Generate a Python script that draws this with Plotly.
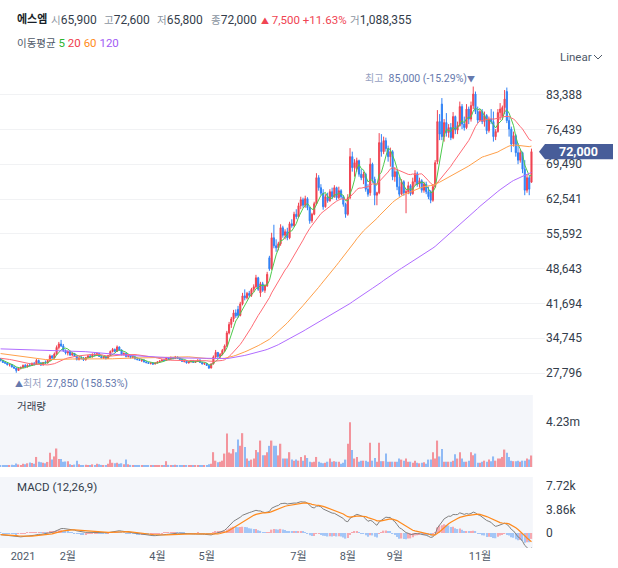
import numpy as np
import pandas as pd
import plotly.graph_objects as go

# ---------------- data ----------------
# trading-day index: 0 = 2021-01-04 ; visible candles run from idx -10 (2020-12-16) to 227 (2021-12-02)
FIRST_IDX = -10

# closes before the visible window (idx -130 .. -11), used only for the moving averages / MACD
prior_close = [
    31000, 31200, 30800, 31100, 31500, 31300, 31000, 30700, 30900, 31200,
    31600, 31800, 31500, 31300, 31700, 32000, 31800, 31400, 31600, 31900,
    32200, 31800, 31500, 31300, 31600, 31900, 32100, 31700, 31500, 31800,
    32500, 33200, 33800, 34300, 34000, 34600, 35200, 35800, 35500, 36100,
    36600, 37000, 36500, 36800, 37400, 37800, 37200, 36700, 36900, 36400,
    36000, 35600, 35900, 35300, 34900, 35200, 34700, 34400, 34800, 34300,
    34000, 33600, 33900, 33400, 33000, 33300, 32800, 32500, 32900, 33300,
    33700, 34200, 33800, 33200, 32700, 32300, 32600, 32100, 31800, 32200,
    32000, 31700, 31400, 31800, 31500, 31200, 31600, 31300, 31000, 31400,
    31600, 31300, 31000, 31400, 31700, 31200, 30900, 31300, 31500, 31100,
    30800, 30500, 30900, 31200, 30800, 30600, 31000, 31300, 30900, 30700,
    30400, 30800, 31100, 30900, 30600, 30500, 30800, 30600, 30400, 30500,
]

opens = [
    30600, 30300, 29900, 29800, 29400, 29500, 29000, 28800, 28300, 28750,
    28900, 29300, 29000, 29400, 29300, 29700, 29500, 30300, 29800, 29400,
    29900, 29800, 30300, 31200, 30800, 31600, 32900, 33600, 33200, 32300,
    31800, 32100, 31400, 31700, 31100, 30500, 30800, 30700, 30400, 30900,
    31200, 31000, 31500, 31300, 31700, 31100, 30800, 31000, 30700, 31300,
    32100, 32500, 32100, 33000, 32400, 31500, 31700, 31100, 31300, 30900,
    31000, 30600, 30500, 30300, 30400, 30000, 29900, 29700, 29800, 29600,
    29800, 30000, 30200, 30400, 30300, 30800, 30600, 30900, 30700, 31000,
    30800, 30500, 30100, 30200, 29800, 30000, 30300, 29900, 30100, 30400,
    29900, 29600, 29700, 29300, 28800, 29600, 31000, 31900, 31100, 31500,
    32300, 33200, 35800, 37500, 38600, 39800, 40500, 39300, 41600, 43200,
    42800, 43700, 43300, 44500, 45000, 46800, 43800, 45600, 44300, 45200,
    50800, 48600, 54800, 53200, 52800, 53600, 56800, 55300, 56000, 54800,
    57600, 57200, 59500, 59000, 61200, 62400, 61300, 62600, 60800, 58200,
    59500, 61600, 66800, 64800, 63700, 61000, 63000, 62200, 64000, 63000,
    64800, 62800, 64200, 63000, 61500, 59500, 62800, 71000, 68800, 68500,
    70200, 67500, 66800, 67500, 64500, 63800, 69500, 66500, 63300, 63800,
    73800, 72000, 74200, 72600, 71000, 72000, 67000, 68000, 65000, 63500,
    66000, 63800, 64000, 65200, 63600, 66000, 67600, 65500, 66200, 64300,
    65500, 64000, 64000, 62300, 65000, 70000, 78000, 81500, 75000, 77800,
    75800, 76800, 74800, 79000, 76300, 77200, 81000, 77500, 76800, 80500,
    78500, 81200, 83500, 80000, 78300, 80000, 78000, 79200, 76200, 78500,
    78000, 75000, 76000, 79800, 79000, 80800, 84000, 78200, 76500, 73500,
    75200, 71800, 70300, 71800, 68500, 64300, 66800, 65900,
]

highs = [
    30800, 30450, 30200, 29900, 29700, 29550, 29200, 28900, 28900, 29100,
    29500, 29600, 29500, 29800, 29900, 30000, 30600, 30500, 30000, 30000,
    30300, 30500, 31500, 31400, 31900, 33300, 34000, 34400, 33600, 32500,
    32300, 32200, 31900, 31800, 31300, 31000, 31200, 31000, 31000, 31400,
    31600, 31700, 31800, 31900, 31800, 31300, 31200, 31100, 31400, 32300,
    32800, 32700, 33300, 33100, 32500, 31900, 31800, 31500, 31400, 31200,
    31100, 30800, 30700, 30600, 30500, 30200, 30000, 29900, 29900, 29900,
    30100, 30300, 30500, 30700, 31000, 30900, 31100, 31000, 31200, 31100,
    30900, 30600, 30300, 30300, 30100, 30400, 30400, 30200, 30500, 30500,
    30000, 29900, 29800, 29400, 29800, 31300, 32400, 32000, 31800, 32600,
    33500, 36200, 38000, 39000, 40400, 40500, 41200, 42000, 43800, 44500,
    44000, 44200, 44800, 45500, 47400, 47000, 46000, 46000, 45500, 48000,
    51200, 55800, 57400, 54500, 54000, 57500, 57200, 56500, 56800, 58000,
    58500, 60000, 60500, 61800, 63000, 62800, 63200, 62900, 61000, 59800,
    62000, 67700, 67300, 65500, 64500, 63500, 63800, 64500, 64800, 65300,
    65000, 65000, 64500, 63300, 61800, 63500, 72700, 72000, 70500, 70800,
    70400, 68500, 68000, 67800, 65500, 70700, 69800, 67000, 64000, 75700,
    75500, 75000, 74800, 73200, 72800, 72300, 68900, 68500, 67000, 66500,
    66300, 64500, 66000, 65500, 66800, 68300, 68000, 66800, 66500, 66000,
    66000, 65000, 64300, 65500, 70300, 80300, 79500, 82700, 78500, 79700,
    77500, 77700, 79900, 79200, 78000, 82000, 81500, 79000, 81500, 81000,
    82000, 85000, 84000, 81000, 80500, 80500, 80000, 79500, 79000, 80500,
    80000, 76500, 80500, 81700, 81200, 84300, 84800, 79000, 77000, 76000,
    75500, 73700, 72500, 72000, 70300, 67500, 67200, 72600,
]

lows = [
    30100, 29800, 29600, 29300, 29100, 28900, 28600, 27850, 28200, 28500,
    28700, 28900, 28900, 29100, 29200, 29300, 29400, 29700, 29200, 29300,
    29600, 29700, 30200, 30600, 30700, 31400, 32500, 33000, 32000, 31500,
    31300, 31200, 31200, 31000, 30300, 30300, 30500, 30200, 30300, 30800,
    30900, 30900, 31100, 31200, 31000, 30700, 30600, 30500, 30600, 31200,
    31900, 31900, 32000, 32200, 31300, 31300, 30900, 30900, 30700, 30700,
    30500, 30300, 30200, 30000, 29900, 29700, 29600, 29500, 29400, 29500,
    29700, 29900, 30100, 30200, 30200, 30400, 30500, 30500, 30600, 30600,
    30400, 30000, 29900, 29700, 29700, 29900, 29800, 29800, 30000, 29800,
    29500, 29400, 29200, 28600, 28700, 29500, 30800, 30800, 30700, 31300,
    32000, 33000, 35500, 36800, 38000, 38800, 38800, 39100, 41300, 42300,
    42500, 42900, 43000, 44000, 44800, 44200, 43000, 44000, 43800, 45000,
    48200, 48400, 52700, 52000, 52300, 53200, 54800, 54500, 54300, 54500,
    56800, 57000, 58500, 58800, 60500, 60800, 60800, 60300, 57600, 57800,
    59300, 61300, 64200, 63300, 60400, 60800, 61800, 62000, 62500, 62800,
    62300, 62500, 62600, 61000, 58800, 59200, 62500, 68000, 67000, 68000,
    67000, 66300, 65500, 64000, 63000, 63200, 65800, 61300, 61300, 63500,
    71000, 71500, 72000, 70000, 69000, 66300, 66000, 64300, 63000, 63300,
    63200, 59700, 63500, 63200, 63400, 65200, 65000, 64800, 63800, 63800,
    63500, 62500, 61700, 62000, 64800, 69500, 74300, 74300, 74000, 75000,
    74800, 74300, 74500, 75500, 75500, 77000, 76500, 76200, 76500, 77500,
    78000, 80500, 79500, 77700, 78000, 77500, 77000, 75500, 75800, 77500,
    74000, 74300, 75800, 78300, 78300, 79500, 77700, 75000, 71900, 73000,
    71000, 69500, 69800, 67700, 63300, 63800, 63300, 65800,
]

closes = [
    30300, 29900, 29800, 29450, 29500, 29000, 28800, 28300, 28750, 28900,
    29300, 29000, 29400, 29300, 29700, 29500, 30300, 29800, 29400, 29900,
    29800, 30300, 31200, 30800, 31600, 32900, 33600, 33200, 32300, 31800,
    32100, 31400, 31700, 31100, 30500, 30800, 30700, 30400, 30900, 31200,
    31000, 31500, 31300, 31700, 31100, 30800, 31000, 30700, 31300, 32100,
    32500, 32100, 33000, 32400, 31500, 31700, 31100, 31300, 30900, 31000,
    30600, 30500, 30300, 30400, 30000, 29900, 29700, 29800, 29600, 29800,
    30000, 30200, 30400, 30300, 30800, 30600, 30900, 30700, 31000, 30800,
    30500, 30100, 30200, 29800, 30000, 30300, 29900, 30100, 30400, 29900,
    29600, 29700, 29300, 28800, 29600, 31000, 31900, 31100, 31500, 32300,
    33200, 35800, 37500, 38600, 39800, 39200, 39300, 41600, 43200, 42800,
    43700, 43300, 44500, 45000, 46800, 44500, 45600, 44300, 45200, 47500,
    48600, 54800, 53200, 52800, 53600, 56800, 55300, 56000, 54800, 57600,
    57200, 59500, 59000, 61200, 62400, 61300, 62600, 60800, 58200, 59500,
    61600, 66800, 64800, 63700, 61000, 63000, 62200, 64000, 63000, 64800,
    62800, 64200, 63000, 61500, 59500, 62800, 71000, 68800, 69800, 70200,
    67500, 66800, 67500, 64500, 63500, 69500, 66500, 63300, 63800, 73800,
    72000, 74200, 72600, 71000, 72000, 67000, 68000, 65000, 63500, 66000,
    63800, 64000, 65200, 63600, 66000, 67600, 65500, 66200, 64300, 65500,
    64000, 63000, 62300, 65000, 69800, 78000, 75500, 75000, 77800, 75800,
    76800, 74800, 79000, 76300, 77200, 81000, 77500, 76800, 80500, 78500,
    81200, 83500, 80000, 78300, 80000, 78000, 79200, 76200, 78500, 78000,
    75000, 76000, 79800, 80500, 80800, 82500, 78200, 76500, 73500, 75200,
    71800, 70300, 71800, 68500, 64300, 66800, 64500, 72000,
]

volumes_k = [  # thousands of shares
    180, 200, 170, 190, 150, 210, 180, 320, 240, 200,
    300, 250, 350, 420, 380, 300, 950, 500, 450, 400,
    350, 480, 1340, 700, 1000, 1750, 750, 760, 500, 520,
    550, 250, 200, 230, 600, 250, 200, 180, 220, 200,
    180, 250, 200, 300, 250, 200, 180, 200, 300, 700,
    400, 350, 400, 300, 350, 250, 700, 250, 200, 180,
    200, 150, 170, 150, 160, 140, 150, 130, 140, 120,
    130, 150, 170, 200, 550, 200, 200, 180, 220, 170,
    160, 200, 150, 180, 140, 170, 160, 150, 200, 190,
    170, 150, 180, 250, 300, 1400, 600, 450, 500, 600,
    1270, 3180, 1370, 1270, 1700, 1400, 2600, 2000, 3200, 1900,
    800, 600, 700, 800, 1600, 1400, 2500, 1100, 1100, 1400,
    2000, 2500, 2000, 2000, 1100, 2200, 800, 800, 800, 1400,
    700, 600, 700, 600, 950, 600, 1100, 850, 500, 450,
    500, 950, 500, 400, 350, 400, 500, 800, 500, 550,
    500, 500, 300, 400, 700, 2200, 4230, 1600, 800, 950,
    500, 600, 600, 600, 500, 2300, 600, 850, 500, 2300,
    550, 550, 1270, 500, 500, 500, 500, 500, 800, 700,
    600, 800, 500, 500, 400, 600, 400, 350, 400, 450,
    300, 700, 700, 1400, 800, 2500, 1000, 1700, 500, 500,
    500, 500, 600, 1200, 800, 1400, 800, 500, 500, 600,
    1400, 1100, 1270, 400, 400, 500, 600, 500, 700, 550,
    1000, 600, 800, 800, 950, 1650, 1340, 950, 600, 550,
    550, 600, 500, 600, 600, 800, 700, 1088.355,
]

month_ticks = [0, 20, 60, 82, 123, 145, 166, 204]
month_labels = ["2021", "2월", "4월", "5월", "7월", "8월", "9월", "11월"]
price_ticks = [27796, 34745, 41694, 48643, 55592, 62541, 69490, 76439, 83388]
volume_ticks = [4230000]
volume_labels = ["4.23m"]
macd_ticks = [0, 3860, 7720]
macd_labels = ["0", "3.86k", "7.72k"]
ma_periods = [5, 20, 60, 120]
stock_name = "에스엠"

# ---------------- styling ----------------
UP = "#f04452"
DOWN = "#3182f6"
MA_COLORS = {5: "#4cc94c", 20: "#ff6b75", 60: "#ffa04a", 120: "#b06cff"}
MA_TEXT = {5: "#2db52d", 20: "#f03c4a", 60: "#ff8c1a", 120: "#a25cf5"}
GRAY = "#8b95a1"
DARK = "#333d4b"
TAG = "#475d99"
FONT = "Roboto, 'Noto Sans CJK KR', sans-serif"

W, H = 618, 568
ML, MR, MT, MB = 0, 73, 0, 20
PW, PH = W - ML - MR, H - MT - MB


def px(x):  # pixel -> paper x
    return (x - ML) / PW


def py(y):  # pixel -> paper y
    return (H - MB - y) / PH


# ---------------- derived series ----------------
n = len(closes)
idx = list(range(FIRST_IDX, FIRST_IDX + n))
volumes = [round(v * 1000) for v in volumes_k]
all_close = pd.Series(prior_close + closes,
                      index=list(range(FIRST_IDX - len(prior_close), FIRST_IDX)) + idx, dtype=float)
mas = {p: all_close.rolling(p).mean().loc[idx] for p in ma_periods}
ema12 = all_close.ewm(span=12, adjust=False).mean()
ema26 = all_close.ewm(span=26, adjust=False).mean()
macd_all = ema12 - ema26
signal_all = macd_all.ewm(span=9, adjust=False).mean()
hist_all = macd_all - signal_all
macd = macd_all.loc[idx]
signal = signal_all.loc[idx]
hist = hist_all.loc[idx]
hist_prev = hist_all.shift(1).loc[idx]

vol_colors = ["#f3949c" if c >= o else "#8fbaf5" for o, c in zip(opens, closes)]
hist_colors = ["#f6a9b0" if h >= hp else "#a3c6f7" for h, hp in zip(hist, hist_prev)]

x_left = FIRST_IDX - 0.27
x_right = x_left + PW / 2.24

fig = go.Figure()

fig.add_trace(go.Candlestick(
    x=idx, open=opens, high=highs, low=lows, close=closes,
    increasing=dict(line=dict(color=UP, width=1), fillcolor=UP),
    decreasing=dict(line=dict(color=DOWN, width=1), fillcolor=DOWN),
    whiskerwidth=0, xaxis="x", yaxis="y", hoverinfo="skip",
))
for p in ma_periods:
    fig.add_trace(go.Scatter(x=idx, y=mas[p], mode="lines",
                             line=dict(color=MA_COLORS[p], width=1),
                             xaxis="x", yaxis="y", hoverinfo="skip"))

fig.add_trace(go.Bar(x=idx, y=volumes, marker=dict(color=vol_colors, line=dict(width=0)),
                     width=0.6, xaxis="x", yaxis="y2", hoverinfo="skip"))

fig.add_trace(go.Bar(x=idx, y=hist, marker=dict(color=hist_colors, line=dict(width=0)),
                     width=0.6, xaxis="x", yaxis="y3", hoverinfo="skip"))
fig.add_trace(go.Scatter(x=idx, y=macd, mode="lines", line=dict(color="#808080", width=1),
                         xaxis="x", yaxis="y3", hoverinfo="skip"))
fig.add_trace(go.Scatter(x=idx, y=signal, mode="lines", line=dict(color="#ff8a1c", width=1.2),
                         xaxis="x", yaxis="y3", hoverinfo="skip"))

# ---------------- annotations ----------------
ann = []


def lab(s, size=10.5, color=GRAY):
    return f"<span style='color:{color};font-size:{size}px'>{s}</span>"


last_o, last_h, last_l, last_c = opens[-1], highs[-1], lows[-1], closes[-1]
chg = last_c - closes[-2]
pct = chg / closes[-2] * 100
header = [
    (15, f"<b>{lab(stock_name, 11, '#191f28')}</b>", 12),
    (49, lab("시") + f"{last_o:,}", 12),
    (102, lab("고") + f"{last_h:,}", 12),
    (155, lab("저") + f"{last_l:,}", 12),
    (209, lab("종") + f"{last_c:,}", 12),
    (259, f"<span style='color:{UP}'><span style='font-size:8px'>▲</span> {chg:,} +{pct:.2f}%</span>", 11.5),
    (348, lab("거") + f"{volumes[-1]:,}", 12),
]
for x0, t, fs in header:
    ann.append(dict(x=px(x0), y=py(20), xref="paper", yref="paper", text=t, showarrow=False,
                    xanchor="left", yanchor="middle", font=dict(size=fs, color=DARK, family=FONT)))

ma_txt = lab("이동평균", 10.5, "#4e5968") + " " + " ".join(
    f"<span style='color:{MA_TEXT[p]}'>{p}</span>" for p in ma_periods)
ann.append(dict(x=px(15), y=py(43), xref="paper", yref="paper", text=ma_txt, showarrow=False,
                xanchor="left", yanchor="middle", font=dict(size=11.5, family=FONT)))

ann.append(dict(x=px(558), y=py(56.5), xref="paper", yref="paper", text="Linear", showarrow=False,
                xanchor="left", yanchor="middle", font=dict(size=11.5, color="#4e5968", family=FONT)))

i_max = int(np.argmax(highs))
i_min = int(np.argmin(lows))
hi, lo = highs[i_max], lows[i_min]
ann.append(dict(x=idx[i_max], y=hi, xref="x", yref="y", xshift=4, yshift=0,
                text=lab("최고", 10, "#97a1c2") + f"  {hi:,} ({(last_c / hi - 1) * 100:.2f}%)"
                     + "<span style='font-size:8px'>▼</span>",
                showarrow=False, xanchor="right", yanchor="bottom",
                font=dict(size=10.5, color="#6679ad", family=FONT)))
ann.append(dict(x=idx[i_min], y=lo, xref="x", yref="y", xshift=-3, yshift=-2,
                text="<span style='font-size:8px'>▲</span>" + lab("최저", 10, "#97a1c2")
                     + f"  {lo:,} ({(last_c / lo - 1) * 100:.2f}%)",
                showarrow=False, xanchor="left", yanchor="top",
                font=dict(size=10.5, color="#6679ad", family=FONT)))

ann.append(dict(x=px(15), y=py(406), xref="paper", yref="paper", text="거래량", showarrow=False,
                xanchor="left", yanchor="middle", font=dict(size=10.5, color=DARK, family=FONT)))
ann.append(dict(x=px(15), y=py(487), xref="paper", yref="paper", text="MACD (12,26,9)",
                showarrow=False, xanchor="left", yanchor="middle",
                font=dict(size=11.5, color=DARK, family=FONT)))

# price tag
ann.append(dict(x=px(579), y=last_c, xref="paper", yref="y", text=f"<b>{last_c:,}</b>",
                showarrow=False, xanchor="center", yanchor="middle",
                font=dict(size=12.5, color="white", family=FONT)))

# ---------------- shapes ----------------
y_lo, y_hi = 23802, 89903
dp = 7.7 * (y_hi - y_lo) / (393 - 62)
shapes = [
    dict(type="rect", xref="x", yref="y2 domain", x0=x_left, x1=idx[-1] + 0.6, y0=0, y1=1,
         fillcolor="#f4f6fa", line=dict(width=0), layer="below"),
    dict(type="rect", xref="x", yref="y3 domain", x0=x_left, x1=idx[-1] + 0.6, y0=0, y1=1,
         fillcolor="#f4f6fa", line=dict(width=0), layer="below"),
    dict(type="path", xref="paper", yref="y",
         path=(f"M {px(539)},{last_c} L {px(545)},{last_c + dp} L {px(613)},{last_c + dp} "
               f"L {px(613)},{last_c - dp} L {px(545)},{last_c - dp} Z"),
         fillcolor=TAG, line=dict(width=0), layer="above"),
    dict(type="path", xref="paper", yref="paper",
         path=f"M {px(594)},{py(55)} L {px(598)},{py(59)} L {px(602)},{py(55)}",
         line=dict(color="#4e5968", width=1)),
]

fig.update_layout(
    width=W, height=H, autosize=False, template="none",
    margin=dict(l=ML, r=MR, t=MT, b=MB),
    paper_bgcolor="white", plot_bgcolor="white",
    showlegend=False, hovermode=False, dragmode=False,
    font=dict(family=FONT, color=DARK),
    annotations=ann, shapes=shapes,
    xaxis=dict(domain=[0, 1], anchor="y3", range=[x_left, x_right],
               tickvals=month_ticks, ticktext=month_labels, ticks="",
               showgrid=False, zeroline=False, showline=False,
               tickfont=dict(size=11, color="#4e5968"),
               rangeslider=dict(visible=False), fixedrange=True),
    yaxis=dict(domain=[py(393), py(62)], anchor="x", side="right", range=[y_lo, y_hi],
               tickvals=price_ticks, ticktext=[f"{v:,}" for v in price_ticks], ticks="",
               showgrid=True, gridcolor="#f1f2f4", gridwidth=1, zeroline=False, showline=False,
               tickfont=dict(size=12, color=DARK), fixedrange=True),
    yaxis2=dict(domain=[py(467), py(395)], anchor="x", side="right", range=[0, 6.81e6],
                tickvals=volume_ticks, ticktext=volume_labels, ticks="",
                showgrid=False, zeroline=False, showline=False,
                tickfont=dict(size=12, color=DARK), fixedrange=True),
    yaxis3=dict(domain=[py(548), py(477)], anchor="x", side="right", range=[-2463, 9195],
                tickvals=macd_ticks, ticktext=macd_labels, ticks="",
                showgrid=False, zeroline=False, showline=False,
                tickfont=dict(size=12, color=DARK), fixedrange=True),
)

fig.write_html("out.html")
